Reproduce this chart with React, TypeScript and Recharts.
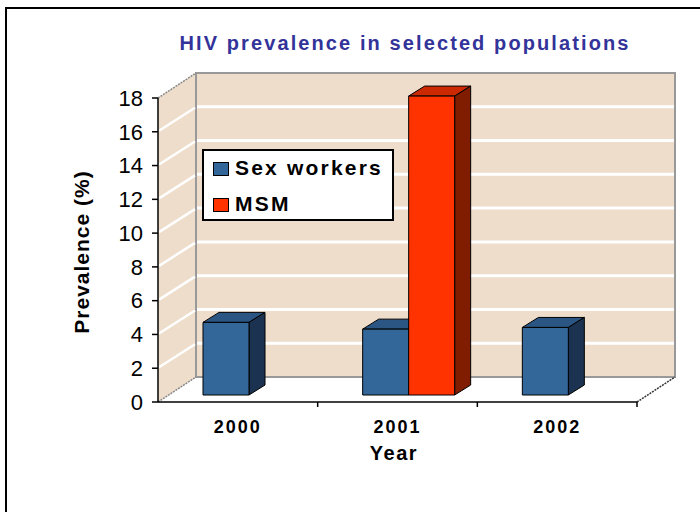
import React from "react";
import { BarChart, Bar, XAxis, YAxis, ReferenceArea, Legend } from "recharts";

const years = ["2000", "2001", "2002"];
const sexWorkers = [4.3, 3.9, 4.0];
const msm: (number | null)[] = [null, 17.7, null];
const yTicks = [0, 2, 4, 6, 8, 10, 12, 14, 16, 18];
const seriesNames = ["Sex workers", "MSM"];

const data = years.map((year, i) => ({ year, sw: sexWorkers[i], msm: msm[i] }));

const FONT = "'Liberation Sans', Arial, sans-serif";
const WALL = "#EDDDCA";
// depth of the fake 3D box and of the bars
const DX = 38;
const DY = 25;
const SHIFT_X = 11;
const SHIFT_Y = 7;
const BAR_DX = 16;
const BAR_DY = 10;

function Backdrop(props: any) {
  const { x, y, width, height } = props;
  const L = x, T = y, R = x + width, B = y + height;
  const max = yTicks[yTicks.length - 1];
  const inner = yTicks.filter((v) => v > 0 && v < max);
  return (
    <g>
      <polygon points={`${L},${B} ${R},${B} ${R + DX},${B - DY} ${L + DX},${B - DY}`} fill="#fff" />
      <polygon points={`${L},${B} ${L + DX},${B - DY} ${L + DX},${T - DY} ${L},${T}`} fill={WALL} />
      <rect x={L + DX} y={T - DY} width={width} height={height} fill={WALL} stroke="#999" strokeWidth={2} />
      {inner.map((v) => {
        const yy = B - (v / max) * height;
        return (
          <g key={v}>
            <line x1={L + DX + 1} x2={R + DX - 1} y1={yy - DY} y2={yy - DY} stroke="#fff" strokeWidth={3} />
            <line x1={L + 1} x2={L + DX - 1} y1={yy - 1} y2={yy - DY + 1} stroke="#fff" strokeWidth={2.5} />
          </g>
        );
      })}
      <line x1={L} y1={T} x2={L + DX} y2={T - DY} stroke="#888" strokeWidth={1.5} strokeDasharray="2 1" />
      <line x1={L} y1={B} x2={L + DX} y2={B - DY} stroke="#888" strokeWidth={1.5} strokeDasharray="2 1" />
      <line x1={R} y1={B} x2={R + DX} y2={B - DY} stroke="#333" strokeWidth={1.5} strokeDasharray="2 1" />
      {[1, 2, 3].map((i) => (
        <line key={i} x1={L + (i * width) / 3} x2={L + (i * width) / 3} y1={B} y2={B + 5} stroke="#000" strokeWidth={1.5} />
      ))}
    </g>
  );
}

function bar3D(front: string, top: string, side: string) {
  return (props: any) => {
    const { x, y, width, height } = props;
    if (height == null || !(height > 0)) return <g />;
    const fx = x + SHIFT_X;
    const fy = y - SHIFT_Y;
    const r = fx + width;
    const b = fy + height;
    return (
      <g stroke="#000" strokeWidth={1} strokeLinejoin="round">
        <polygon points={`${fx},${fy} ${fx + BAR_DX},${fy - BAR_DY} ${r + BAR_DX},${fy - BAR_DY} ${r},${fy}`} fill={top} />
        <polygon points={`${r},${fy} ${r + BAR_DX},${fy - BAR_DY} ${r + BAR_DX},${b - BAR_DY} ${r},${b}`} fill={side} />
        <rect x={fx} y={fy} width={width} height={height} fill={front} />
      </g>
    );
  };
}

const swatch: Record<string, string> = { "Sex workers": "#336699", MSM: "#FF3300" };

function LegendBox(props: any) {
  const payload: any[] = props.payload || [];
  const items = seriesNames.map((name) => {
    const p = payload.find((e) => e.value === name);
    return { name, color: (p && p.color) || swatch[name] };
  });
  return (
    <div
      style={{
        position: "relative", width: 192, height: 72, boxSizing: "border-box",
        background: "#fff", border: "2px solid #000", fontFamily: FONT,
      }}
    >
      {items.map((it, i) => (
        <React.Fragment key={it.name}>
          <div
            style={{
              position: "absolute", left: 9, top: 11 + i * 36, width: 14, height: 12,
              background: it.color, border: "1px solid #000",
            }}
          />
          <div
            style={{
              position: "absolute", left: 31, top: 5 + i * 36, lineHeight: "24px",
              fontSize: 21, fontWeight: "bold", letterSpacing: 2.2, color: "#000", whiteSpace: "nowrap",
            }}
          >
            {it.name}
          </div>
        </React.Fragment>
      ))}
    </div>
  );
}

export default function App() {
  return (
    <div style={{ position: "absolute", left: 0, top: 0, width: 700, height: 512, overflow: "hidden", background: "#fff" }}>
      <div
        style={{
          position: "absolute", left: 5, top: 7, width: 720, height: 540, border: "2px solid #000",
        }}
      />
      <div style={{ position: "absolute", left: 0, top: 0 }}>
        <BarChart
          width={700}
          height={512}
          data={data}
          margin={{ top: 98, right: 63, left: 58, bottom: 70 }}
          barGap={0}
          barSize={46}
        >
          <XAxis
            dataKey="year"
            height={40}
            tickLine={false}
            tickSize={6}
            tickMargin={12}
            axisLine={{ stroke: "#000", strokeWidth: 1.5 }}
            tick={{ fontSize: 18, fontWeight: "bold", fill: "#000", fontFamily: FONT, letterSpacing: 2 }}
          />
          <YAxis
            width={100}
            domain={[0, 18]}
            ticks={yTicks}
            interval={0}
            tickSize={6}
            tickMargin={9}
            axisLine={{ stroke: "#000", strokeWidth: 1.5 }}
            tickLine={{ stroke: "#000", strokeWidth: 1.5 }}
            tick={{ fontSize: 22, fill: "#000", fontFamily: FONT }}
          />
          <ReferenceArea y1={0} y2={18} shape={<Backdrop />} ifOverflow="visible" />
          <Legend
            layout="vertical"
            align="center"
            verticalAlign="middle"
            content={<LegendBox />}
            wrapperStyle={{ left: 202, top: 149, width: 192, height: 72 }}
          />
          <Bar dataKey="sw" name={seriesNames[0]} fill="#336699" shape={bar3D("#336699", "#2B5683", "#1B3350")} isAnimationActive={false} />
          <Bar dataKey="msm" name={seriesNames[1]} fill="#FF3300" shape={bar3D("#FF3300", "#CC2900", "#801C00")} isAnimationActive={false} />
        </BarChart>
      </div>
      <svg width={700} height={512} style={{ position: "absolute", left: 0, top: 0, pointerEvents: "none" }}>
        <text x={405} y={50} textAnchor="middle" fontFamily={FONT} fontSize={20} fontWeight="bold" fill="#333399" letterSpacing={2.1}>
          HIV prevalence in selected populations
        </text>
        <text
          transform="translate(89,252) rotate(-90)"
          textAnchor="middle"
          fontFamily={FONT}
          fontSize={21}
          fontWeight="bold"
          fill="#000"
          letterSpacing={1}
        >
          Prevalence (%)
        </text>
        <text x={394} y={460} textAnchor="middle" fontFamily={FONT} fontSize={20} fontWeight="bold" fill="#000" letterSpacing={1.5}>
          Year
        </text>
      </svg>
    </div>
  );
}
